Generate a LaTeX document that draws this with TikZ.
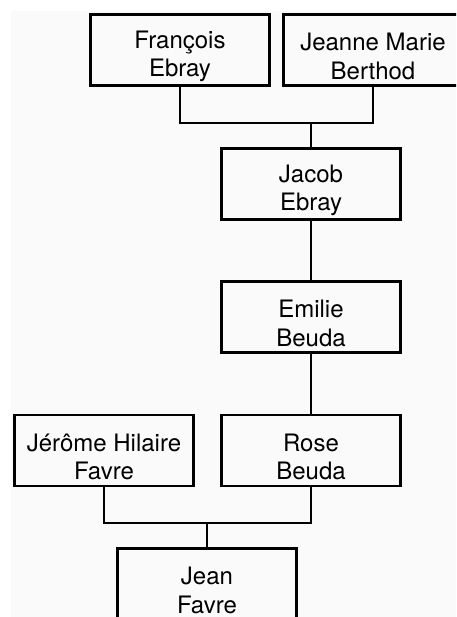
\documentclass[tikz,border=0pt]{standalone}
\usepackage{fontspec}
\setmainfont{TeX Gyre Heros}
\usetikzlibrary{calc}

\begin{document}
\begin{tikzpicture}[x=1pt,y=-1pt,
  person/.style={draw,line width=2.6pt,minimum width=179pt,minimum height=71pt,
    inner sep=0pt,
    label={[align=center,inner sep=0pt,yshift=-6.5pt,font=\fontsize{24}{28.5}\selectfont]center:#1}},
  link/.style={line width=2.6pt}]

 %% page and background
 \useasboundingbox (0,0) rectangle (456,617);
 \clip (0,0) rectangle (456,617);
 \fill[black!2] (11,11) rectangle (456,617);

 %% the persons, top to bottom
 \node[person={François\\Ebray}]       (francois) at (180,50)    {};
 \node[person={Jeanne Marie\\Berthod}] (jeanne)   at (373,50)    {};
 \node[person={Jacob\\Ebray}]          (jacob)    at (311,184)   {};
 \node[person={Emilie\\Beuda}]         (emilie)   at (311,317)   {};
 \node[person={Jérôme Hilaire\\Favre}] (jerome)   at (104,450.5) {};
 \node[person={Rose\\Beuda}]           (rose)     at (311,450.5) {};
 \node[person={Jean\\Favre}]           (jean)     at (207,584)   {};

 %% the bars between two parents
 \coordinate (bar/jacob) at (jacob.north |- 0,123);
 \coordinate (bar/jean)  at (jean.north |- 0,523);

 %% connectors
 \draw[link] (francois.south) |- (bar/jacob) -| (jeanne.south);
 \draw[link] (bar/jacob) -- (jacob.north);
 \draw[link] (jacob.south) -- (emilie.north);
 \draw[link] (emilie.south) -- (rose.north);
 \draw[link] (jerome.south) |- (bar/jean) -| (rose.south);
 \draw[link] (bar/jean) -- (jean.north);

\end{tikzpicture}
\end{document}
